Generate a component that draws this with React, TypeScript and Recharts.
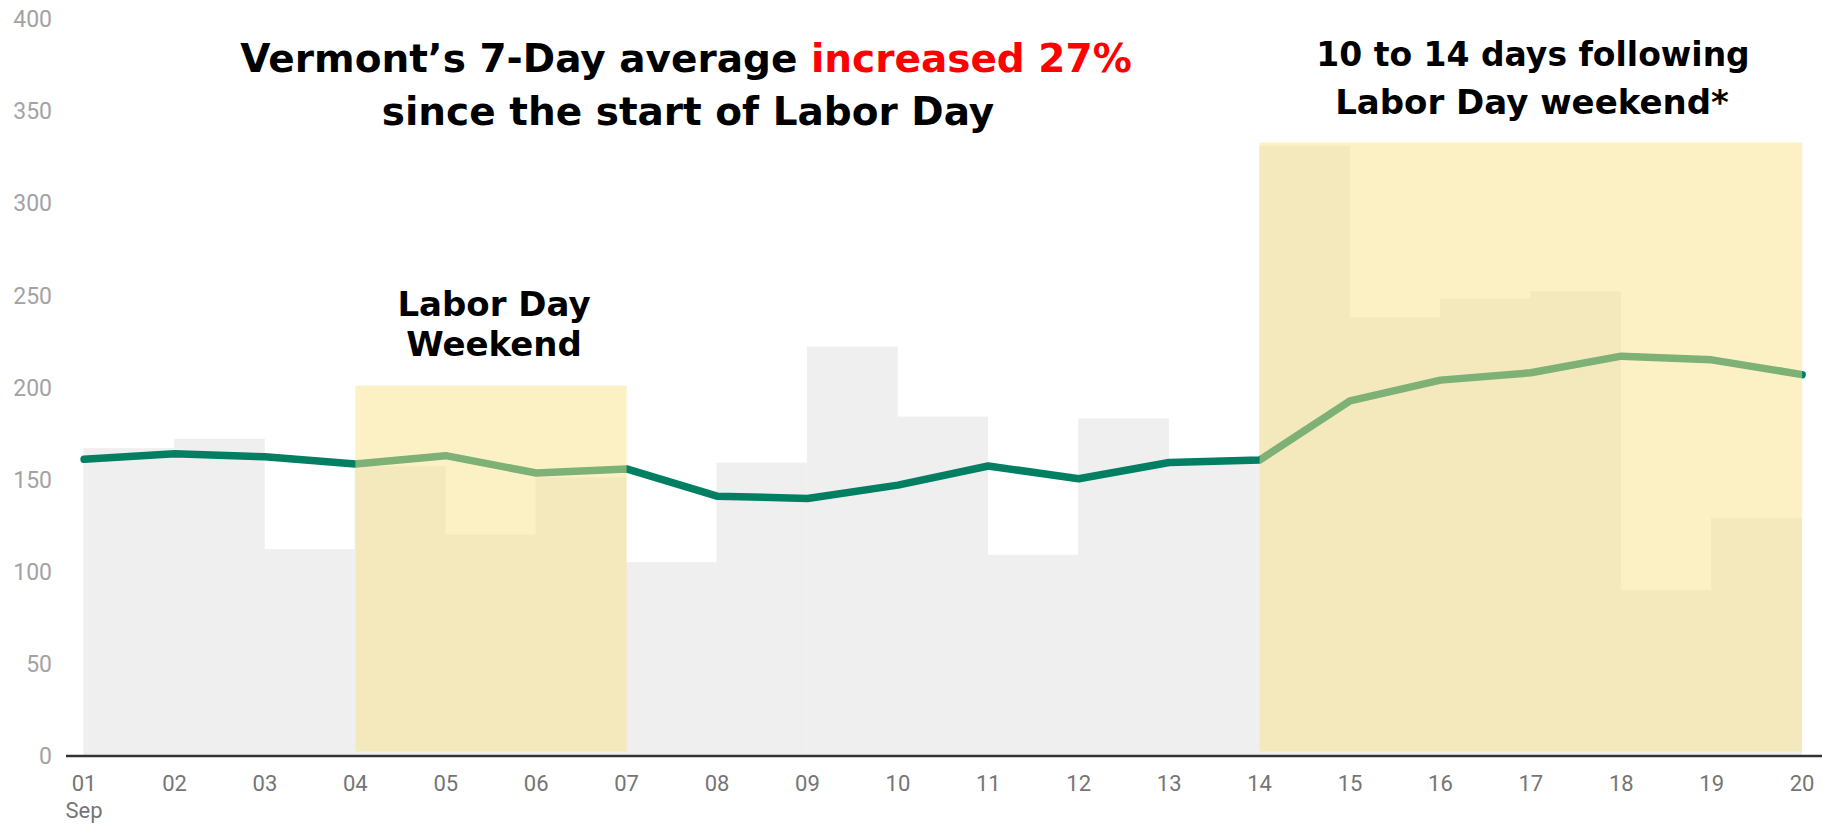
import React from "react";
import {
  Bar,
  ComposedChart,
  Line,
  ReferenceArea,
  XAxis,
  YAxis,
} from "recharts";

const days = [1, 2, 3, 4, 5, 6, 7, 8, 9, 10, 11, 12, 13, 14, 15, 16, 17, 18, 19, 20];
const dailyCases = [167, 172, 112, 157, 120, 151, 105, 159, 222, 184, 109, 183, 159, 331, 238, 248, 252, 90, 129, null];
const sevenDayAvg = [161, 164, 162.4, 158.5, 163, 153.6, 155.8, 141, 139.8, 147, 157.4, 150.5, 159.3, 160.6, 192.7, 204, 208, 217, 215, 207];
const yTicks = [0, 50, 100, 150, 200, 250, 300, 350, 400];

// highlighted periods: [startDay, endDay, top]
const laborDayBox = [4, 7, 201];
const followingBox = [14, 20, 333];

const data = days.map((d, i) => ({ day: d, daily: dailyCases[i], avg: sevenDayAvg[i] }));

const TITLE_FONT = "'DejaVu Sans', sans-serif";

// bars on a number axis are centred on the day; shift them so each covers day -> day+1
const StepBar = (props: any) => {
  const { x, y, width, height } = props;
  if (height == null || height <= 0) return null;
  return (
    <rect
      x={x + width / 2}
      y={y}
      width={width}
      height={height}
      fill="#efefef"
      stroke="#efefef"
      strokeWidth={0.8}
    />
  );
};

const DayTick = (props: any) => {
  const { x, y, payload } = props;
  const label = String(payload.value).padStart(2, "0");
  return (
    <g>
      <text x={x} y={y} dy="0.71em" textAnchor="middle" fill="#757575" fontSize={22} fontFamily="Roboto">
        {label}
      </text>
      {payload.value === 1 && (
        <text x={x} y={y + 27} dy="0.71em" textAnchor="middle" fill="#757575" fontSize={22} fontFamily="Roboto">
          Sep
        </text>
      )}
    </g>
  );
};

export default function App() {
  return (
    <div style={{ position: "absolute", left: 0, top: 0, width: 1822, height: 824, background: "#fff" }}>
      <ComposedChart
        width={1822}
        height={824}
        data={data}
        margin={{ top: 19, right: 0, bottom: 8, left: 0 }}
        barCategoryGap={0}
        barGap={0}
      >
        <XAxis
          dataKey="day"
          type="number"
          domain={[0.8, 20.22]}
          allowDataOverflow
          ticks={days}
          interval={0}
          tick={<DayTick />}
          tickLine={false}
          tickSize={0}
          tickMargin={19}
          height={60}
          axisLine={{ stroke: "#333", strokeWidth: 2.5 }}
        />
        <YAxis
          domain={[0, 400]}
          ticks={yTicks}
          width={66}
          axisLine={false}
          tickLine={false}
          tickSize={0}
          tickMargin={14}
          tick={{ fill: "#a3a3a3", fontSize: 23, fontFamily: "Roboto" }}
        />
        <Bar dataKey="daily" shape={<StepBar />} isAnimationActive={false} />
        <Line
          dataKey="avg"
          type="linear"
          stroke="#007f62"
          strokeWidth={7.5}
          strokeLinecap="round"
          strokeLinejoin="round"
          dot={false}
          activeDot={false}
          isAnimationActive={false}
        />
        <ReferenceArea
          x1={laborDayBox[0]}
          x2={laborDayBox[1]}
          y1={2.5}
          y2={laborDayBox[2]}
          fill="rgb(249,227,137)"
          fillOpacity={0.5}
          stroke="none"
          zIndex={1000}
        />
        <ReferenceArea
          x1={followingBox[0]}
          x2={followingBox[1]}
          y1={2.5}
          y2={followingBox[2]}
          fill="rgb(249,227,137)"
          fillOpacity={0.5}
          stroke="none"
          zIndex={1000}
        />
      </ComposedChart>
      <svg
        width={1822}
        height={824}
        style={{ position: "absolute", left: 0, top: 0, pointerEvents: "none" }}
        fontFamily={TITLE_FONT}
        fontWeight="bold"
      >
        <text x={686} y={72} textAnchor="middle" fontSize={39} fill="#000">
          Vermont’s 7-Day average <tspan fill="#ff0000">increased 27%</tspan>
        </text>
        <text x={688} y={125} textAnchor="middle" fontSize={39} fill="#000">
          since the start of Labor Day
        </text>
        <text x={494} y={316} textAnchor="middle" fontSize={34} fill="#000">
          Labor Day
        </text>
        <text x={494} y={356} textAnchor="middle" fontSize={34} fill="#000">
          Weekend
        </text>
        <text x={1533} y={66} textAnchor="middle" fontSize={33} fill="#000">
          10 to 14 days following
        </text>
        <text x={1532} y={114} textAnchor="middle" fontSize={34} fill="#000">
          Labor Day weekend*
        </text>
      </svg>
    </div>
  );
}
